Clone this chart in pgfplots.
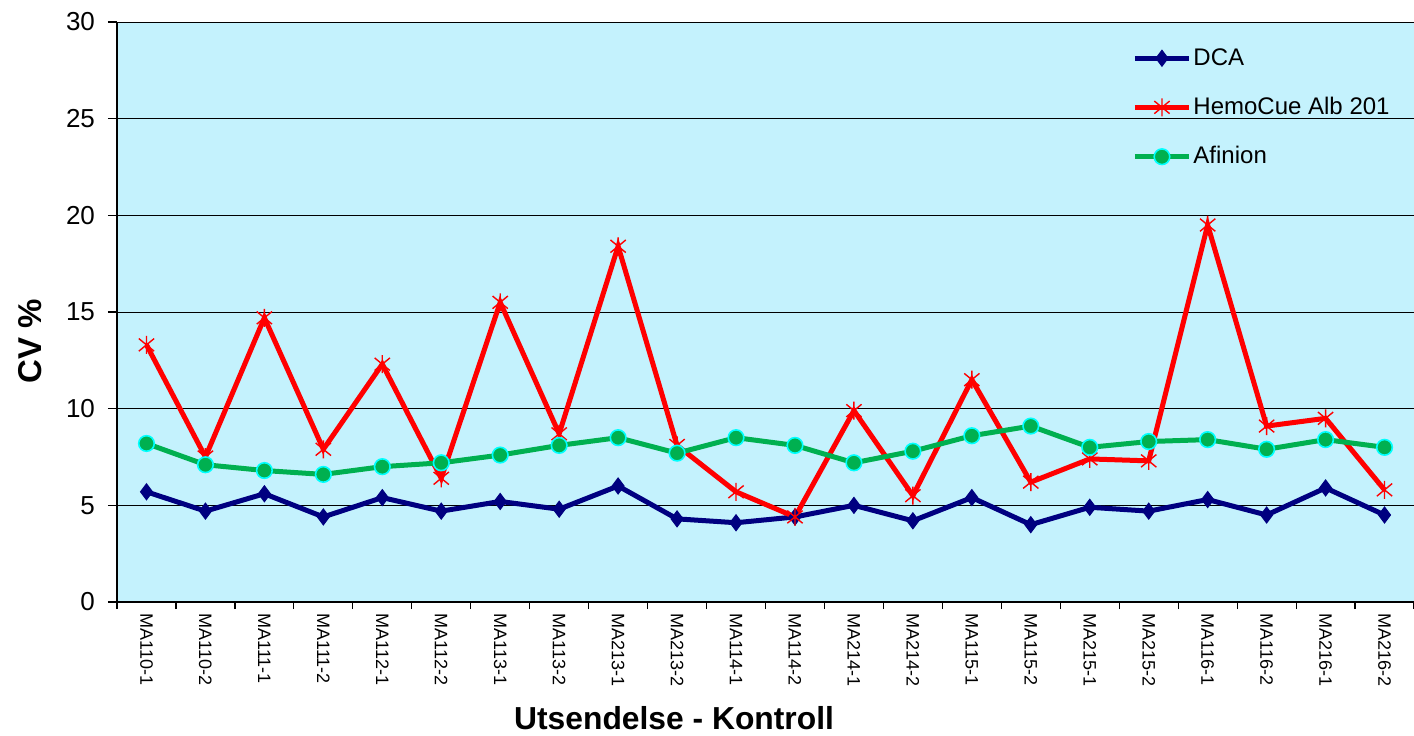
\documentclass[border=0pt]{standalone}
\usepackage{fontspec}
\setmainfont{Liberation Sans}
\usepackage{pgfplots}
\pgfplotsset{compat=1.18}
\definecolor{bgcyan}{RGB}{196,242,253}
\definecolor{dcablue}{RGB}{0,0,128}
\definecolor{afgreen}{RGB}{0,176,80}
\definecolor{afedge}{RGB}{0,255,255}
% star as drawn by the spreadsheet: an x with a vertical bar
\pgfdeclareplotmark{xstar}{%
  \pgfpathmoveto{\pgfqpoint{-0.85\pgfplotmarksize}{-0.7\pgfplotmarksize}}%
  \pgfpathlineto{\pgfqpoint{0.85\pgfplotmarksize}{0.7\pgfplotmarksize}}%
  \pgfpathmoveto{\pgfqpoint{-0.85\pgfplotmarksize}{0.7\pgfplotmarksize}}%
  \pgfpathlineto{\pgfqpoint{0.85\pgfplotmarksize}{-0.7\pgfplotmarksize}}%
  \pgfpathmoveto{\pgfqpoint{0pt}{-\pgfplotmarksize}}%
  \pgfpathlineto{\pgfqpoint{0pt}{\pgfplotmarksize}}%
  \pgfusepathqstroke}
\begin{document}
\begin{tikzpicture}
\path[use as bounding box] (0,0) rectangle (707pt,367.5pt);
\begin{axis}[
    at={(58.5pt,66.5pt)}, anchor=south west,
    scale only axis,
    width=648.5pt, height=290pt,
    axis background/.style={fill=bgcyan},
    xmin=-0.5, xmax=21.5,
    ymin=0, ymax=30,
    ytick={0,5,...,30},
    xtick={0,...,21},
    xticklabels={MA110-1,MA110-2,MA111-1,MA111-2,MA112-1,MA112-2,MA113-1,MA113-2,MA213-1,MA213-2,MA114-1,MA114-2,MA214-1,MA214-2,MA115-1,MA115-2,MA215-1,MA215-2,MA116-1,MA116-2,MA216-1,MA216-2},
    x tick label style={rotate=-90, anchor=west, font=\fontsize{9}{10}\selectfont, inner sep=1pt},
    y tick label style={font=\fontsize{13}{15}\selectfont, xshift=-3pt},
    /pgf/number format/assume math mode=true,
    major x tick style={draw=none},
    minor xtick={-0.5,0.5,...,21.5},
    minor tick length=3.5pt,
    major tick length=4.5pt,
    tick align=outside,
    tick style={black, line width=0.6pt},
    axis x line*=bottom,
    axis y line*=left,
    axis line style={black, line width=0.7pt},
    ymajorgrids=true,
    grid style={black, line width=0.5pt},
    xlabel={\bfseries Utsendelse - Kontroll},
    ylabel={\bfseries CV \%},
    xlabel style={font=\fontsize{15.9}{18}\selectfont, at={(axis description cs:0.4295,-0.2)}, anchor=center},
    ylabel style={font=\fontsize{16.5}{19}\selectfont, at={(axis description cs:-0.067,0.45)}, anchor=center},
    legend style={draw=none, fill=none, at={(0.778,0.969)}, anchor=north west,
        font=\fontsize{12}{14}\selectfont, row sep=10.5pt, cells={anchor=west},
        nodes={inner xsep=1pt}},
    legend image code/.code={
        \draw[#1] (0pt,0pt) -- (13.5pt,0pt) plot coordinates {(13.5pt,0pt)} -- (27pt,0pt);
    },
]
\addplot[color=dcablue, line width=2.5pt, mark=diamond*, mark size=4pt,
    mark options={fill=dcablue, draw=dcablue, line width=0.5pt}] coordinates {
(0,5.7) (1,4.7) (2,5.6) (3,4.4) (4,5.4) (5,4.7) (6,5.2) (7,4.8) (8,6.0) (9,4.3) (10,4.1)
(11,4.4) (12,5.0) (13,4.2) (14,5.4) (15,4.0) (16,4.9) (17,4.7) (18,5.3) (19,4.5) (20,5.9) (21,4.5)
};
\addlegendentry{DCA}
\addplot[color=red, line width=2.5pt, mark=xstar, mark size=4.5pt,
    mark options={draw=red, line width=0.7pt}] coordinates {
(0,13.3) (1,7.5) (2,14.7) (3,7.9) (4,12.3) (5,6.4) (6,15.5) (7,8.7) (8,18.4) (9,8.1) (10,5.7)
(11,4.4) (12,9.9) (13,5.5) (14,11.5) (15,6.2) (16,7.4) (17,7.3) (18,19.5) (19,9.1) (20,9.5) (21,5.8)
};
\addlegendentry{HemoCue Alb 201}
\addplot[color=afgreen, line width=2.5pt, mark=*, mark size=3.9pt,
    mark options={fill=afgreen, draw=afedge, line width=0.8pt}] coordinates {
(0,8.2) (1,7.1) (2,6.8) (3,6.6) (4,7.0) (5,7.2) (6,7.6) (7,8.1) (8,8.5) (9,7.7) (10,8.5)
(11,8.1) (12,7.2) (13,7.8) (14,8.6) (15,9.1) (16,8.0) (17,8.3) (18,8.4) (19,7.9) (20,8.4) (21,8.0)
};
\addlegendentry{Afinion}
\end{axis}
\end{tikzpicture}
\end{document}
